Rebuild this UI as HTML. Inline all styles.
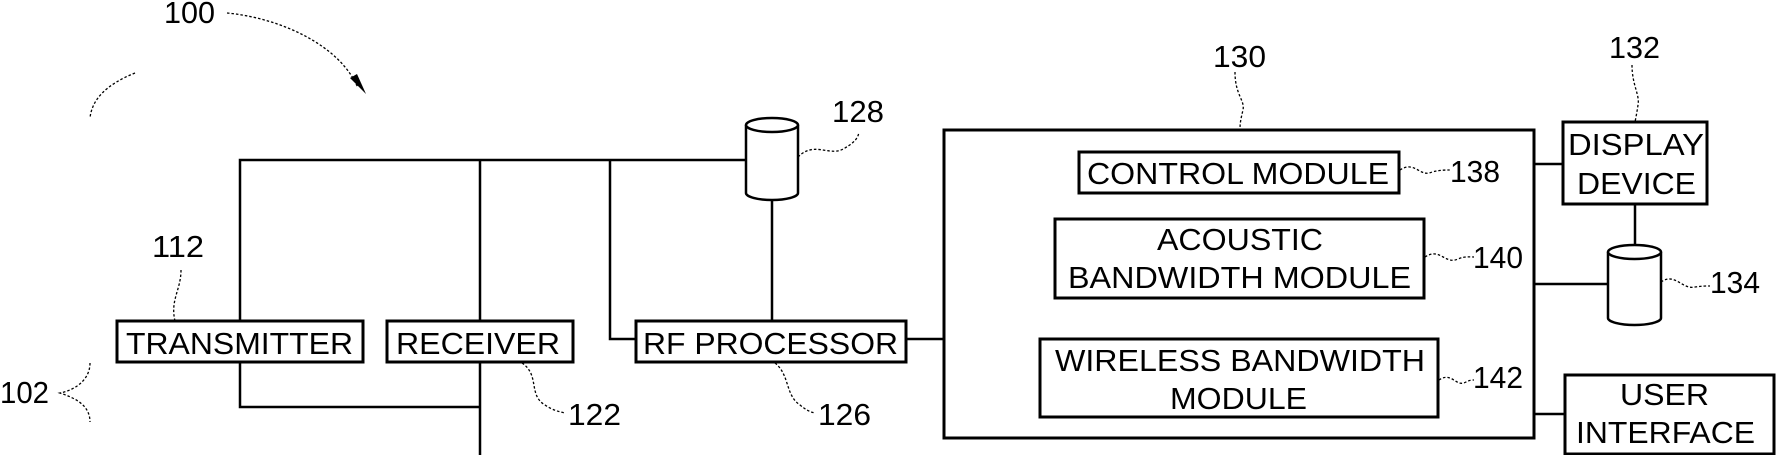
<!DOCTYPE html>
<html><head><meta charset="utf-8"><style>html,body{margin:0;padding:0;background:#fff}svg{display:block}</style></head><body>
<svg width="1776" height="455" viewBox="0 0 1776 455" xmlns="http://www.w3.org/2000/svg" font-family="'Liberation Sans Narrow','Liberation Sans',sans-serif" font-size="31">
<g fill="none" stroke="#000" stroke-width="2.5">
<path d="M240 321 V160 H746"/>
<path d="M480 160 V455"/>
<path d="M610 160 V339 H636"/>
<path d="M772 200 V321"/>
<path d="M240 362 V407 H480"/>
<path d="M906 339 H944"/>
<path d="M1534 164 H1563"/>
<path d="M1534 284 H1608"/>
<path d="M1534 414 H1565"/>
<path d="M1635 204 V245"/>
</g>
<g fill="#fff" stroke="#000" stroke-width="3">
<rect x="117" y="321" width="246" height="41"/>
<rect x="387" y="321" width="186" height="41"/>
<rect x="636" y="321" width="270" height="41"/>
<rect x="944" y="130" width="590" height="308"/>
<rect x="1079" y="152" width="320" height="41"/>
<rect x="1055" y="219" width="369" height="79"/>
<rect x="1040" y="339" width="398" height="78"/>
<rect x="1563" y="122" width="144" height="82"/>
<rect x="1565" y="375" width="209" height="79"/>
</g>
<g stroke="#000" stroke-width="2.5">
<path d="M746 125 V193 A26 7 0 0 0 798 193 V125" fill="#fff"/>
<ellipse cx="772" cy="125" rx="26" ry="7" fill="#fff"/>
<path d="M1608 252 V318 A26.5 7 0 0 0 1661 318 V252" fill="#fff"/>
<ellipse cx="1634.5" cy="252" rx="26.5" ry="7" fill="#fff"/>
</g>
<g fill="none" stroke="#000" stroke-width="1.3" stroke-dasharray="2.5 2">
<path d="M227 13 C280 18 340 45 358 88"/>
<path d="M135 73 C105 85 92 100 90 118"/>
<path d="M90 363 C90 380 75 390 60 393 C75 398 90 405 90 422"/>
<path d="M798 157 C815 140 830 158 845 148 C855 142 858 138 859 132"/>
<path d="M181 270 C181 290 170 300 175 321"/>
<path d="M522 363 C540 375 528 395 545 405 C552 410 560 412 565 413"/>
<path d="M775 363 C790 375 785 395 800 405 C806 410 810 412 815 413"/>
<path d="M1235 72 C1235 95 1245 100 1243 110 C1241 118 1240 123 1240 129"/>
<path d="M1400 170 C1415 160 1420 178 1432 172 C1440 170 1445 170 1450 170"/>
<path d="M1425 257 C1440 247 1445 265 1458 259 C1465 256 1470 257 1474 257"/>
<path d="M1439 380 C1452 371 1456 388 1466 382 C1470 380 1472 380 1474 380"/>
<path d="M1632 65 C1632 85 1640 95 1638 105 C1637 112 1636 117 1635 122"/>
<path d="M1661 282 C1675 272 1682 290 1695 287 C1702 286 1706 286 1710 286"/>
</g>
<path d="M350 78 L366 94 L357 74 Z" fill="#000"/>
<g fill="#000">
<text x="126" y="354" textLength="227" lengthAdjust="spacingAndGlyphs">TRANSMITTER</text>
<text x="396" y="354" textLength="164" lengthAdjust="spacingAndGlyphs">RECEIVER</text>
<text x="643" y="354" textLength="255" lengthAdjust="spacingAndGlyphs">RF PROCESSOR</text>
<text x="1087" y="184" textLength="302" lengthAdjust="spacingAndGlyphs">CONTROL MODULE</text>
<text x="1157" y="250" textLength="166" lengthAdjust="spacingAndGlyphs">ACOUSTIC</text>
<text x="1068" y="288" textLength="343" lengthAdjust="spacingAndGlyphs">BANDWIDTH MODULE</text>
<text x="1055" y="371" textLength="370" lengthAdjust="spacingAndGlyphs">WIRELESS BANDWIDTH</text>
<text x="1170" y="409" textLength="137" lengthAdjust="spacingAndGlyphs">MODULE</text>
<text x="1568" y="155" textLength="136" lengthAdjust="spacingAndGlyphs">DISPLAY</text>
<text x="1577" y="194" textLength="119" lengthAdjust="spacingAndGlyphs">DEVICE</text>
<text x="1620" y="405" textLength="89" lengthAdjust="spacingAndGlyphs">USER</text>
<text x="1576" y="443" textLength="179" lengthAdjust="spacingAndGlyphs">INTERFACE</text>
<text x="164" y="23" textLength="51" lengthAdjust="spacingAndGlyphs">100</text>
<text x="0" y="403" textLength="49" lengthAdjust="spacingAndGlyphs">102</text>
<text x="152" y="257" textLength="52" lengthAdjust="spacingAndGlyphs">112</text>
<text x="568" y="425" textLength="53" lengthAdjust="spacingAndGlyphs">122</text>
<text x="818" y="425" textLength="53" lengthAdjust="spacingAndGlyphs">126</text>
<text x="832" y="122" textLength="52" lengthAdjust="spacingAndGlyphs">128</text>
<text x="1213" y="67" textLength="53" lengthAdjust="spacingAndGlyphs">130</text>
<text x="1609" y="58" textLength="51" lengthAdjust="spacingAndGlyphs">132</text>
<text x="1710" y="293" textLength="50" lengthAdjust="spacingAndGlyphs">134</text>
<text x="1450" y="182" textLength="50" lengthAdjust="spacingAndGlyphs">138</text>
<text x="1473" y="268" textLength="50" lengthAdjust="spacingAndGlyphs">140</text>
<text x="1473" y="388" textLength="50" lengthAdjust="spacingAndGlyphs">142</text>
</g>
</svg>
</body></html>
